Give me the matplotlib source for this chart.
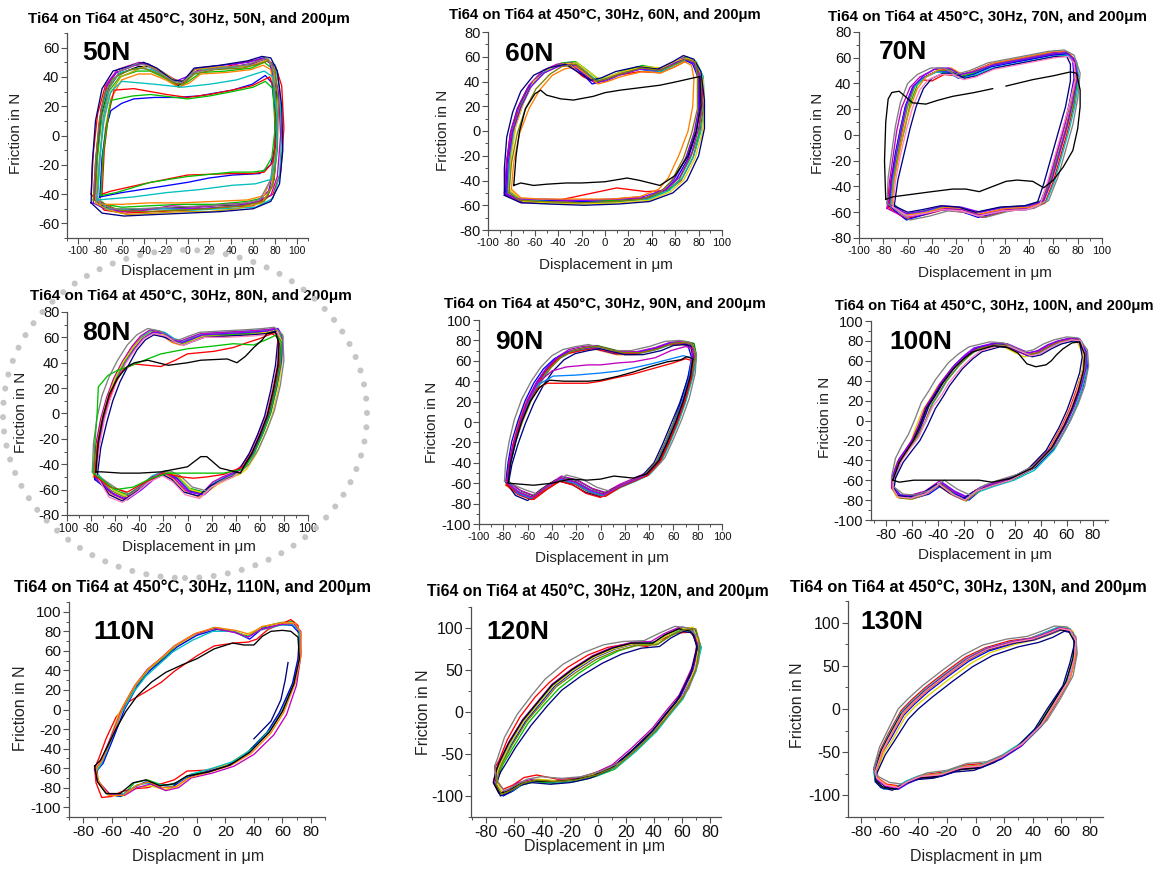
import numpy as np
import matplotlib
matplotlib.use('Agg')
import matplotlib.pyplot as plt
from matplotlib.patches import Ellipse
from matplotlib.ticker import MultipleLocator

plt.rcParams['font.family'] = ['Liberation Sans', 'DejaVu Sans']
plt.rcParams['axes.unicode_minus'] = False

W, H = 1161, 869

loads = ['50N', '60N', '70N', '80N', '90N', '100N', '110N', '120N', '130N']
xlabels = ['Displacement in μm'] * 6 + ['Displacment in μm', 'Displacement in μm', 'Displacment in μm']

# ---- friction loops, one list of (displacement, friction) points per cycle ----
loops_50N = [
    [(-85,-44),(-83,-16),(-79,12),(-73,31),(-63,42),(-45,47),(-35,47),(-20,41),(-9,34),(0,38),(10,45),(35,46),(58,49),(70,53),(77,49),(81,30),(82,0),(79,-30),(72,-43),(55,-47),(25,-48),(-5,-49),(-35,-50),(-60,-51),(-76,-49),(-85,-44)],
    [(-88,-40),(-86,-12),(-82,15),(-75,34),(-65,43),(-48,48),(-38,49),(-24,43),(-10,35),(-2,37),(9,44),(35,47),(58,51),(72,52),(80,48),(86,34),(88,5),(85,-25),(78,-40),(60,-48),(30,-49),(0,-51),(-30,-52),(-58,-53),(-76,-51),(-88,-40)],
    [(-84,-42),(-82,-14),(-78,14),(-72,30),(-62,40),(-46,44),(-34,44),(-20,39),(-8,33),(1,37),(12,43),(35,44),(58,46),(70,50),(77,46),(81,25),(82,-5),(79,-30),(73,-42),(55,-45),(25,-47),(-5,-47),(-35,-48),(-60,-49),(-75,-47),(-84,-42)],
    [(-86,-46),(-84,-18),(-80,10),(-74,33),(-65,43),(-48,48),(-36,49),(-22,43),(-11,37),(-1,40),(8,46),(32,48),(56,50),(68,53),(75,50),(79,36),(81,5),(79,-22),(74,-38),(62,-46),(35,-49),(5,-50),(-25,-50),(-55,-52),(-76,-50),(-86,-46)],
    [(-85,-40),(-83,-10),(-79,16),(-72,34),(-61,43),(-45,46),(-33,45),(-19,40),(-7,36),(2,40),(12,45),(38,46),(60,48),(72,51),(80,48),(84,32),(86,0),(84,-28),(78,-43),(62,-49),(32,-50),(5,-51),(-22,-50),(-50,-51),(-74,-50),(-85,-40)],
    [(-85,-43),(-83,-12),(-79,18),(-73,36),(-64,45),(-44,50),(-32,47),(-18,41),(-6,36),(3,42),(14,46),(40,47),(60,49),(70,52),(78,48),(83,30),(85,0),(82,-28),(76,-41),(60,-46),(35,-47),(10,-49),(-15,-48),(-40,-51),(-64,-52),(-85,-43)],
    [(-84,-46),(-81,-20),(-77,8),(-71,28),(-61,40),(-46,45),(-37,48),(-24,44),(-12,38),(-3,37),(7,45),(30,47),(55,47),(67,50),(74,52),(79,44),(81,18),(80,-12),(77,-35),(68,-46),(45,-50),(20,-52),(-5,-52),(-30,-53),(-55,-54),(-72,-51),(-84,-46)],
    [(-86,-44),(-84,-20),(-81,8),(-76,28),(-68,39),(-52,45),(-40,46),(-26,42),(-12,36),(-4,35),(6,42),(25,45),(50,46),(66,49),(74,51),(80,45),(83,20),(82,-10),(78,-34),(70,-45),(50,-48),(20,-50),(-10,-51),(-40,-52),(-62,-51),(-86,-44)],
    [(-80,-47),(-78,-20),(-75,5),(-70,25),(-60,38),(-45,42),(-33,42),(-20,38),(-8,33),(2,36),(12,42),(35,43),(58,45),(69,48),(76,45),(79,30),(80,0),(77,-28),(70,-41),(55,-44),(25,-45),(-5,-46),(-35,-46),(-60,-47),(-80,-47)],
    [(-88,-46),(-87,-20),(-84,10),(-78,32),(-68,44),(-50,48),(-40,50),(-28,46),(-14,38),(-4,37),(6,46),(30,48),(55,51),(68,54),(76,53),(82,44),(86,20),(87,-10),(84,-33),(76,-45),(60,-50),(30,-52),(0,-53),(-30,-54),(-58,-55),(-78,-53),(-88,-46)],
    [(-83,-45),(-80,-18),(-77,12),(-71,33),(-62,44),(-46,49),(-38,48),(-25,43),(-13,37),(-5,36),(5,43),(28,46),(52,48),(65,51),(73,53),(78,46),(80,25),(80,-5),(76,-30),(66,-44),(45,-47),(15,-48),(-15,-49),(-45,-50),(-70,-50),(-83,-45)],
    [(-80,-42),(-78,-15),(-74,6),(-70,17),(-60,22),(-49,25),(-30,26),(-10,26),(10,27),(41,31),(59,35),(71,41),(77,36),(80,15),(80,-8),(76,-20),(66,-26),(41,-27),(20,-29),(0,-32),(-34,-36),(-60,-39),(-80,-42)],
    [(-78,-40),(-76,-10),(-72,15),(-67,31),(-49,32),(-19,28),(0,26),(20,28),(41,31),(59,34),(75,40),(80,30),(81,0),(78,-18),(70,-25),(59,-26),(41,-26),(0,-27),(-40,-33),(-70,-38),(-78,-40)],
    [(-79,-41),(-77,-12),(-73,10),(-70,24),(-50,27),(-34,28),(0,25),(20,27),(41,30),(60,33),(71,37),(78,32),(80,5),(77,-15),(70,-24),(59,-25),(41,-25),(0,-28),(-34,-32),(-65,-39),(-79,-41)],
    [(-82,-44),(-80,-15),(-76,12),(-70,30),(-60,37),(-30,35),(-5,33),(20,35),(45,38),(70,44),(78,40),(82,10),(81,-15),(76,-30),(62,-33),(41,-34),(10,-37),(-19,-39),(-50,-42),(-82,-44)],
]
colors_50N = ['k', 'r', '#00c000', '#8000ff', 'c', 'm', '#c8a000', '#808000',
              '#ff8000', '#000080', '#808080', 'b', 'r', '#00c000', 'c']

loops_60N = [
    [(-83,-48),(-81,-22),(-77,2),(-70,22),(-62,38),(-50,49),(-38,54),(-27,56),(-16,48),(-8,41),(1,42),(13,47),(30,52),(47,50),(60,56),(68,60),(76,56),(80,45),(81,20),(77,0),(70,-20),(60,-38),(50,-47),(35,-54),(10,-56),(-20,-57),(-50,-56),(-72,-55),(-83,-48)],
    [(-85,-52),(-84,-28),(-80,-3),(-74,18),(-66,34),(-54,46),(-42,52),(-30,53),(-19,44),(-10,40),(-1,42),(10,45),(30,48),(47,47),(60,52),(70,57),(78,54),(83,40),(84,18),(81,-2),(75,-22),(65,-40),(54,-48),(35,-49),(10,-46),(-20,-52),(-50,-58),(-72,-57),(-85,-52)],
    [(-84,-49),(-82,-22),(-78,3),(-71,23),(-62,39),(-49,50),(-37,55),(-25,56),(-15,49),(-6,42),(2,43),(14,48),(32,53),(48,50),(62,56),(70,60),(78,55),(82,42),(83,18),(80,-3),(73,-22),(63,-40),(52,-49),(35,-55),(10,-56),(-20,-57),(-50,-58),(-72,-56),(-84,-49)],
    [(-85,-51),(-84,-26),(-81,-2),(-75,18),(-66,35),(-53,47),(-42,52),(-29,54),(-19,46),(-11,38),(-3,40),(10,45),(28,50),(46,48),(59,54),(67,58),(75,54),(80,42),(81,18),(78,-2),(71,-22),(61,-39),(51,-48),(35,-54),(10,-57),(-20,-57),(-50,-56),(-72,-57),(-85,-51)],
    [(-83,-50),(-82,-24),(-78,1),(-71,21),(-63,37),(-51,48),(-39,53),(-26,54),(-16,47),(-7,41),(1,43),(12,47),(31,50),(48,48),(61,54),(70,58),(78,56),(84,44),(85,20),(82,0),(76,-20),(66,-38),(55,-48),(38,-55),(12,-57),(-18,-58),(-48,-57),(-70,-56),(-83,-50)],
    [(-86,-50),(-84,-23),(-80,2),(-73,22),(-65,37),(-53,49),(-41,54),(-28,55),(-18,47),(-9,39),(-1,41),(11,46),(29,50),(46,50),(59,55),(67,59),(75,57),(81,45),(83,22),(80,2),(74,-18),(64,-37),(53,-47),(36,-54),(11,-55),(-19,-56),(-49,-57),(-71,-58),(-86,-50)],
    [(-82,-47),(-80,-20),(-76,5),(-69,25),(-61,40),(-48,50),(-36,54),(-24,55),(-14,48),(-5,42),(3,44),(15,48),(33,52),(49,51),(62,57),(71,59),(79,54),(84,41),(85,18),(83,-2),(77,-22),(67,-40),(56,-49),(38,-56),(12,-58),(-18,-59),(-48,-58),(-70,-57),(-82,-47)],
    [(-84,-51),(-83,-27),(-79,-1),(-72,19),(-64,35),(-52,47),(-40,52),(-28,54),(-18,46),(-9,40),(0,40),(12,45),(30,50),(47,49),(60,55),(68,58),(76,55),(80,43),(80,18),(76,-2),(69,-22),(59,-39),(49,-48),(33,-53),(8,-55),(-22,-56),(-52,-55),(-73,-55),(-84,-51)],
    [(-80,-47),(-78,-25),(-73,-2),(-65,18),(-56,33),(-45,45),(-35,50),(-25,52),(-15,45),(-6,38),(2,40),(14,44),(32,48),(48,47),(60,52),(68,56),(74,53),(76,42),(75,20),(71,0),(63,-20),(54,-38),(46,-47),(30,-53),(5,-55),(-25,-55),(-55,-55),(-72,-54),(-80,-47)],
    [(-86,-52),(-86,-30),(-84,-5),(-79,15),(-72,32),(-61,45),(-48,51),(-34,54),(-22,47),(-12,41),(-3,43),(9,48),(28,52),(45,50),(58,56),(67,61),(76,58),(82,48),(85,25),(85,2),(80,-20),(70,-40),(58,-50),(38,-57),(12,-59),(-18,-60),(-48,-59),(-72,-58),(-86,-52)],
    [(-82,-50),(-80,-26),(-75,-2),(-68,18),(-59,34),(-47,46),(-37,52),(-25,54),(-15,46),(-7,40),(1,42),(13,46),(31,51),(47,49),(60,54),(69,58),(77,56),(79,44),(79,18),(74,-2),(67,-22),(57,-40),(48,-49),(32,-55),(8,-57),(-22,-58),(-52,-57),(-73,-56),(-82,-50)],
    [(-78,-44),(-76,-20),(-73,0),(-68,18),(-60,30),(-55,33),(-50,29),(-38,26),(-27,25),(-10,28),(0,31),(13,33),(30,35),(47,37),(62,40),(76,43),(81,44),(82,20),(78,0),(71,-20),(60,-36),(47,-44),(30,-40),(19,-38),(0,-41),(-20,-42),(-33,-42),(-50,-43),(-61,-44),(-72,-42),(-78,-44)],
]
colors_60N = ['#808080', 'r', '#00c000', 'b', 'c', 'm', '#e0d000', '#8000ff',
              '#ff8000', '#000080', '#808000', 'k']

loops_70N = [
    [(-74,-54),(-72,-35),(-68,-15),(-64,5),(-60,22),(-54,38),(-46,45),(-35,50),(-25,50),(-16,45),(-5,48),(10,54),(38,59),(60,63),(72,64),(78,58),(79,45),(75,25),(70,5),(64,-15),(58,-35),(51,-52),(40,-56),(20,-57),(0,-62),(-15,-58),(-30,-57),(-45,-60),(-60,-63),(-74,-54)],
    [(-76,-56),(-74,-36),(-70,-15),(-66,5),(-61,24),(-55,38),(-49,43),(-40,42),(-30,47),(-20,46),(-8,49),(8,55),(36,58),(58,62),(71,63),(77,57),(80,44),(77,24),(72,4),(66,-16),(60,-36),(53,-53),(42,-57),(22,-59),(2,-64),(-14,-60),(-30,-58),(-46,-62),(-62,-65),(-76,-56)],
    [(-73,-52),(-71,-33),(-67,-13),(-62,6),(-58,24),(-52,39),(-44,46),(-33,51),(-24,51),(-14,46),(-3,49),(12,55),(40,60),(62,64),(73,63),(79,57),(80,42),(76,22),(70,2),(63,-18),(57,-37),(50,-51),(38,-55),(18,-56),(-2,-60),(-16,-57),(-32,-56),(-47,-59),(-62,-62),(-73,-52)],
    [(-75,-55),(-73,-34),(-70,-14),(-66,4),(-62,22),(-56,37),(-48,44),(-37,49),(-27,49),(-18,44),(-6,47),(9,53),(37,58),(59,62),(71,63),(76,57),(77,44),(73,24),(68,4),(62,-16),(56,-36),(49,-53),(38,-58),(18,-59),(-2,-64),(-17,-59),(-32,-58),(-47,-62),(-61,-66),(-75,-55)],
    [(-74,-53),(-72,-33),(-69,-13),(-65,6),(-61,23),(-55,37),(-47,44),(-36,49),(-26,48),(-17,44),(-6,46),(10,52),(38,57),(60,61),(72,62),(79,57),(81,44),(78,24),(73,4),(67,-16),(61,-36),(54,-52),(42,-56),(22,-58),(2,-61),(-13,-58),(-28,-56),(-44,-59),(-60,-62),(-74,-53)],
    [(-77,-57),(-75,-37),(-72,-17),(-69,3),(-65,21),(-58,37),(-50,45),(-38,51),(-28,51),(-19,46),(-7,49),(8,55),(36,60),(58,64),(70,65),(76,60),(78,46),(74,26),(69,6),(63,-14),(57,-34),(50,-52),(39,-57),(19,-58),(-1,-62),(-15,-58),(-31,-57),(-46,-61),(-62,-64),(-77,-57)],
    [(-73,-55),(-71,-35),(-67,-15),(-63,4),(-58,21),(-52,36),(-45,45),(-34,51),(-24,52),(-15,47),(-4,50),(11,56),(39,61),(61,65),(73,64),(78,58),(79,45),(76,25),(71,5),(65,-15),(59,-35),(52,-52),(41,-56),(21,-57),(1,-61),(-14,-57),(-29,-56),(-44,-60),(-59,-62),(-73,-55)],
    [(-75,-54),(-73,-34),(-69,-14),(-65,5),(-61,23),(-55,38),(-47,46),(-36,52),(-26,52),(-17,47),(-6,49),(9,54),(37,59),(59,63),(71,64),(77,59),(80,46),(76,26),(71,6),(65,-14),(59,-34),(52,-51),(40,-55),(20,-56),(0,-60),(-16,-56),(-31,-55),(-46,-59),(-61,-61),(-75,-54)],
    [(-71,-55),(-68,-35),(-63,-15),(-58,5),(-53,22),(-47,36),(-40,44),(-31,48),(-21,48),(-13,44),(-3,46),(12,52),(40,57),(62,61),(71,61),(74,55),(74,42),(70,22),(64,2),(58,-18),(52,-38),(47,-52),(36,-55),(16,-56),(-4,-60),(-18,-56),(-33,-55),(-48,-58),(-60,-60),(-71,-55)],
    [(-77,-53),(-76,-33),(-73,-13),(-70,7),(-66,25),(-60,40),(-52,47),(-41,52),(-30,52),(-21,47),(-9,50),(6,56),(34,61),(56,65),(69,66),(77,62),(82,48),(80,28),(76,8),(70,-12),(64,-32),(56,-51),(44,-57),(24,-59),(4,-64),(-12,-60),(-27,-59),(-42,-63),(-58,-66),(-77,-53)],
    [(-72,-56),(-70,-36),(-66,-16),(-61,4),(-56,21),(-50,35),(-43,43),(-33,47),(-23,47),(-14,43),(-4,45),(11,51),(39,56),(61,60),(72,61),(77,56),(78,43),(73,23),(67,3),(61,-17),(55,-37),(49,-54),(38,-58),(18,-59),(-2,-63),(-16,-59),(-31,-58),(-46,-61),(-60,-63),(-72,-56)],
    [(-78,-50),(-79,-20),(-78,10),(-76,28),(-73,33),(-67,34),(-62,30),(-56,25),(-45,24),(-35,27),(-23,30),(-5,33),(10,36)],
    [(21,38),(43,43),(60,46),(74,49),(79,48),(82,35),(82,22),(80,5),(76,-12),(68,-25),(60,-35),(52,-41),(43,-36),(30,-35),(21,-36),(10,-40),(-1,-44),(-12,-42),(-23,-42),(-40,-44),(-56,-46),(-72,-48),(-78,-50)],
]
colors_70N = ['#808000', 'r', '#00c000', 'b', 'c', 'm', '#ff8000', '#8000ff',
              '#000080', '#808080', '#ff80c0', 'k', 'k']

loops_80N = [
    [(-77,-48),(-75,-25),(-71,-5),(-66,12),(-60,27),(-53,40),(-45,52),(-38,60),(-30,65),(-20,63),(-12,58),(-5,56),(3,59),(12,62),(30,63),(50,64),(65,65),(74,67),(77,60),(76,40),(72,20),(67,0),(61,-15),(54,-30),(46,-42),(40,-47),(30,-51),(22,-55),(12,-63),(0,-60),(-10,-50),(-19,-46),(-30,-50),(-40,-58),(-52,-66),(-63,-61),(-77,-48)],
    [(-78,-50),(-76,-27),(-72,-6),(-67,11),(-62,26),(-55,39),(-47,51),(-40,59),(-32,64),(-22,62),(-13,56),(-6,54),(2,57),(11,60),(29,61),(49,62),(64,63),(73,65),(76,58),(75,38),(71,18),(66,-2),(60,-17),(53,-32),(45,-43),(38,-48),(28,-53),(20,-58),(10,-66),(-1,-62),(-11,-52),(-20,-47),(-31,-52),(-41,-60),(-53,-68),(-64,-63),(-78,-50)],
    [(-76,-46),(-74,-23),(-70,-3),(-65,14),(-59,29),(-52,42),(-44,53),(-37,61),(-29,66),(-19,64),(-11,59),(-4,57),(4,60),(13,63),(31,64),(51,65),(66,66),(75,67),(78,61),(77,41),(73,21),(68,1),(62,-14),(55,-29),(47,-41),(41,-46),(31,-50),(23,-54),(13,-62),(1,-59),(-9,-49),(-18,-45),(-29,-49),(-39,-57),(-51,-65),(-62,-60),(-76,-46)],
    [(-77,-52),(-75,-29),(-72,-8),(-67,9),(-61,25),(-54,38),(-46,50),(-39,58),(-31,63),(-21,61),(-12,57),(-5,55),(3,58),(12,61),(30,62),(50,63),(65,64),(74,66),(78,59),(77,39),(73,19),(68,-1),(62,-16),(55,-31),(47,-43),(41,-48),(31,-52),(23,-56),(13,-64),(1,-61),(-9,-51),(-18,-47),(-29,-51),(-39,-59),(-51,-68),(-62,-63),(-77,-52)],
    [(-76,-49),(-74,-26),(-70,-5),(-65,13),(-59,28),(-52,41),(-44,52),(-37,60),(-29,64),(-19,62),(-11,57),(-4,55),(4,58),(13,61),(31,62),(51,63),(66,64),(75,66),(79,60),(78,40),(74,20),(69,0),(63,-15),(56,-30),(48,-42),(42,-47),(32,-51),(24,-55),(14,-62),(2,-59),(-8,-50),(-17,-46),(-28,-50),(-38,-57),(-50,-64),(-61,-60),(-76,-49)],
    [(-78,-47),(-76,-24),(-72,-4),(-67,13),(-61,28),(-54,41),(-46,53),(-39,61),(-31,66),(-21,64),(-13,58),(-6,57),(2,60),(11,63),(29,64),(49,65),(64,66),(73,67),(76,61),(75,41),(71,21),(66,1),(60,-14),(53,-29),(45,-41),(39,-46),(29,-50),(21,-54),(11,-64),(-1,-61),(-11,-51),(-20,-46),(-31,-51),(-41,-59),(-53,-67),(-64,-62),(-78,-47)],
    [(-77,-48),(-75,-25),(-71,-4),(-66,13),(-60,28),(-53,41),(-45,52),(-38,59),(-30,64),(-20,62),(-12,57),(-5,54),(3,57),(12,61),(30,61),(50,62),(65,64),(74,66),(78,58),(78,38),(75,18),(70,-2),(64,-17),(57,-32),(49,-44),(43,-48),(33,-52),(25,-56),(15,-63),(3,-60),(-7,-50),(-16,-46),(-27,-50),(-37,-58),(-49,-66),(-60,-61),(-77,-48)],
    [(-76,-51),(-74,-28),(-70,-7),(-65,10),(-59,26),(-52,39),(-44,51),(-37,59),(-29,64),(-19,63),(-11,58),(-4,56),(4,59),(13,62),(31,63),(51,64),(66,65),(75,67),(79,61),(78,41),(74,21),(69,1),(63,-14),(56,-29),(48,-41),(42,-46),(32,-50),(24,-55),(14,-64),(2,-62),(-8,-52),(-17,-47),(-28,-52),(-38,-60),(-50,-68),(-61,-64),(-76,-51)],
    [(-75,-50),(-72,-27),(-67,-7),(-62,10),(-56,25),(-49,38),(-42,50),(-35,58),(-28,62),(-18,60),(-10,56),(-3,54),(5,57),(14,60),(32,61),(52,62),(66,63),(73,65),(75,58),(73,38),(69,18),(64,-2),(58,-17),(51,-32),(43,-44),(37,-49),(27,-53),(19,-57),(9,-65),(-3,-62),(-13,-52),(-21,-48),(-32,-53),(-42,-61),(-54,-69),(-65,-64),(-75,-50)],
    [(-79,-46),(-78,-23),(-75,-3),(-71,14),(-65,29),(-58,42),(-50,54),(-42,62),(-33,67),(-23,65),(-14,59),(-7,58),(1,61),(10,64),(28,65),(48,66),(63,67),(72,68),(79,62),(80,42),(77,22),(72,2),(66,-13),(59,-28),(51,-40),(44,-46),(34,-50),(26,-54),(16,-61),(4,-58),(-6,-49),(-15,-45),(-26,-49),(-36,-56),(-48,-64),(-59,-59),(-79,-46)],
    [(-76,-48),(-73,-25),(-69,-5),(-64,12),(-58,27),(-51,40),(-43,51),(-36,59),(-28,63),(-18,61),(-10,56),(-3,54),(5,57),(14,60),(32,60),(52,61),(67,62),(75,64),(77,57),(74,37),(70,17),(65,-3),(59,-18),(52,-33),(44,-45),(38,-50),(28,-54),(20,-58),(10,-67),(-2,-64),(-12,-54),(-21,-49),(-32,-54),(-42,-62),(-54,-70),(-65,-66),(-76,-48)],
    [(-77,-49),(-75,-26),(-71,-6),(-66,10),(-60,24),(-53,35),(-44,39),(-33,38),(-22,37),(-10,42),(0,47),(22,49),(38,52),(50,56),(60,59),(70,63),(75,60),(76,40),(72,20),(67,0),(61,-15),(54,-30),(46,-42),(30,-48),(16,-50),(5,-51),(-5,-50),(-20,-47),(-35,-54),(-50,-62),(-64,-58),(-77,-49)],
    [(-78,-47),(-77,-25),(-75,0),(-74,21),(-66,30),(-58,34),(-49,37),(-33,43),(-22,47),(0,51),(20,53),(38,55),(55,54),(65,58),(74,62),(78,56),(77,38),(73,18),(68,-2),(62,-17),(55,-32),(46,-44),(30,-47),(16,-47),(0,-47),(-16,-47),(-30,-51),(-45,-58),(-60,-60),(-78,-47)],
    [(-76,-46),(-74,-22),(-70,-2),(-65,15),(-58,28),(-50,37),(-44,40),(-33,42),(-16,38),(0,40),(11,42),(33,43),(41,40),(48,45),(55,52),(62,58),(66,63),(73,64),(76,55),(75,38),(71,18),(66,-2),(60,-17),(53,-32),(46,-43),(44,-47),(27,-43),(16,-34),(11,-34),(0,-42),(-22,-46),(-40,-47),(-55,-47),(-71,-46),(-76,-46)],
]
colors_80N = ['#808000', '#ff8000', 'c', 'b', '#00c000', 'm', '#e0d000', '#8000ff',
              '#000080', '#808080', '#ff80c0', 'r', '#00c000', 'k']

loops_90N = [
    [(-77,-60),(-75,-40),(-71,-20),(-66,0),(-60,20),(-52,38),(-44,52),(-35,63),(-26,69),(-15,72),(-5,74),(5,71),(15,68),(30,68),(45,72),(57,77),(68,78),(75,76),(77,64),(74,45),(68,20),(62,0),(55,-20),(48,-38),(38,-51),(27,-57),(15,-63),(3,-71),(-8,-67),(-20,-59),(-33,-55),(-45,-64),(-56,-74),(-67,-69),(-77,-60)],
    [(-78,-62),(-76,-42),(-72,-22),(-68,-2),(-62,18),(-54,36),(-46,50),(-37,61),(-28,67),(-17,70),(-7,72),(3,69),(13,66),(28,66),(43,70),(55,75),(66,76),(74,74),(76,62),(73,43),(67,18),(61,-2),(54,-22),(47,-40),(37,-53),(26,-59),(14,-65),(2,-73),(-9,-69),(-21,-61),(-34,-57),(-46,-66),(-57,-76),(-68,-71),(-78,-62)],
    [(-76,-58),(-74,-38),(-70,-18),(-65,2),(-58,22),(-50,40),(-42,54),(-33,64),(-24,70),(-13,73),(-3,75),(7,72),(17,69),(32,69),(47,73),(59,78),(70,79),(77,77),(79,65),(76,46),(70,21),(64,1),(57,-19),(50,-37),(40,-50),(29,-56),(17,-62),(5,-70),(-6,-66),(-18,-58),(-31,-54),(-43,-63),(-54,-73),(-65,-68),(-76,-58)],
    [(-78,-59),(-76,-39),(-73,-19),(-68,1),(-62,21),(-55,38),(-47,52),(-38,62),(-29,68),(-18,71),(-8,73),(2,70),(12,67),(27,67),(42,71),(54,76),(65,77),(72,75),(75,63),(72,44),(66,19),(60,-1),(53,-21),(46,-39),(36,-52),(25,-58),(13,-64),(1,-72),(-10,-68),(-22,-60),(-35,-56),(-47,-65),(-58,-75),(-69,-70),(-78,-59)],
    [(-76,-61),(-74,-41),(-70,-21),(-65,-1),(-59,19),(-51,37),(-43,51),(-34,62),(-25,68),(-14,71),(-4,73),(6,70),(16,67),(31,67),(46,71),(58,76),(69,77),(76,75),(79,63),(76,44),(70,19),(64,-1),(57,-21),(50,-39),(40,-52),(29,-58),(17,-64),(5,-72),(-6,-68),(-18,-60),(-31,-56),(-43,-65),(-54,-75),(-65,-70),(-76,-61)],
    [(-77,-58),(-75,-38),(-71,-18),(-66,2),(-60,22),(-52,40),(-44,53),(-35,64),(-26,71),(-15,74),(-5,75),(5,72),(15,69),(30,69),(45,73),(57,78),(68,79),(75,77),(78,66),(75,47),(69,22),(63,2),(56,-18),(49,-36),(39,-49),(28,-55),(16,-61),(4,-69),(-7,-65),(-19,-57),(-32,-53),(-44,-62),(-55,-72),(-66,-67),(-77,-58)],
    [(-77,-62),(-75,-42),(-72,-22),(-67,-2),(-61,18),(-53,36),(-45,50),(-36,61),(-27,67),(-16,70),(-6,72),(4,70),(14,67),(29,67),(44,71),(56,76),(67,77),(74,75),(77,63),(75,44),(69,19),(63,-1),(56,-21),(49,-39),(39,-52),(28,-58),(16,-64),(4,-73),(-7,-69),(-19,-61),(-32,-57),(-44,-66),(-55,-76),(-66,-71),(-77,-62)],
    [(-76,-60),(-74,-40),(-70,-20),(-66,0),(-60,20),(-53,38),(-45,52),(-36,63),(-27,69),(-16,72),(-6,73),(4,71),(14,68),(29,68),(44,72),(56,77),(67,78),(74,76),(77,64),(74,45),(68,20),(62,0),(55,-20),(48,-38),(38,-51),(27,-57),(15,-63),(3,-71),(-8,-67),(-20,-59),(-33,-55),(-45,-64),(-56,-74),(-67,-69),(-76,-60)],
    [(-76,-62),(-73,-42),(-68,-22),(-62,-2),(-55,18),(-47,36),(-39,50),(-30,61),(-21,67),(-10,70),(0,72),(10,69),(20,66),(35,66),(50,70),(60,75),(70,76),(75,74),(76,62),(72,43),(65,18),(58,-2),(51,-22),(44,-40),(34,-53),(23,-59),(11,-65),(-1,-73),(-12,-69),(-24,-61),(-37,-57),(-49,-66),(-60,-77),(-70,-72),(-76,-62)],
    [(-79,-58),(-78,-38),(-75,-18),(-71,2),(-65,22),(-57,40),(-49,54),(-40,65),(-31,71),(-20,74),(-10,76),(0,73),(10,70),(25,70),(40,74),(53,79),(65,80),(74,78),(79,67),(78,48),(73,23),(67,3),(60,-17),(53,-35),(43,-48),(32,-54),(20,-60),(8,-68),(-3,-64),(-15,-56),(-28,-52),(-40,-61),(-51,-71),(-63,-66),(-79,-58)],
    [(-77,-59),(-74,-39),(-70,-19),(-64,1),(-57,21),(-49,39),(-41,53),(-32,64),(-23,70),(-12,73),(-2,74),(8,71),(18,68),(33,68),(48,72),(59,77),(69,78),(76,76),(78,64),(74,44),(67,19),(60,-1),(53,-21),(46,-39),(36,-52),(25,-58),(13,-64),(1,-72),(-10,-68),(-22,-60),(-35,-56),(-47,-65),(-58,-75),(-69,-70),(-77,-59)],
    [(-77,-61),(-75,-41),(-71,-21),(-66,-1),(-60,18),(-53,32),(-44,38),(-30,38),(-11,38),(0,40),(11,43),(27,47),(45,53),(60,58),(70,62),(76,60),(74,43),(68,18),(62,-2),(55,-22),(48,-40),(38,-53),(25,-58),(12,-66),(0,-74),(-12,-70),(-22,-62),(-34,-58),(-46,-67),(-57,-76),(-68,-71),(-77,-61)],
    [(-76,-59),(-74,-39),(-70,-19),(-65,1),(-59,21),(-52,36),(-39,45),(-20,46),(0,48),(15,50),(27,53),(42,57),(55,61),(68,65),(75,63),(73,44),(67,19),(61,-1),(54,-21),(47,-39),(37,-52),(26,-58),(14,-64),(2,-72),(-9,-68),(-21,-60),(-34,-56),(-46,-65),(-57,-75),(-68,-70),(-76,-59)],
    [(-77,-60),(-75,-40),(-71,-20),(-66,0),(-60,20),(-52,38),(-40,50),(-28,54),(-10,56),(0,56),(15,58),(27,59),(45,63),(58,70),(70,74),(76,72),(74,45),(68,20),(62,0),(55,-20),(48,-38),(38,-51),(27,-57),(15,-63),(3,-71),(-8,-67),(-20,-59),(-33,-55),(-45,-64),(-56,-74),(-67,-69),(-77,-60)],
    [(-76,-60),(-74,-40),(-70,-20),(-65,0),(-58,20),(-50,34),(-42,41),(-30,40),(-22,40),(-10,40),(0,41),(15,45),(27,49),(40,54),(55,59),(66,61),(71,64),(76,62),(74,45),(68,20),(62,0),(55,-20),(48,-38),(38,-51),(27,-55),(11,-53),(0,-56),(-11,-57),(-25,-56),(-40,-60),(-55,-62),(-76,-60)],
]
colors_90N = ['#00c000', '#ff8000', '#008000', 'b', 'c', 'm', 'r', '#8000ff',
              '#000080', '#808080', '#808000', 'r', '#0080ff', 'm', 'k']

loops_100N = [
    [(-75,-57),(-70,-40),(-64,-28),(-59,-18),(-54,-3),(-49,14),(-43,26),(-38,37),(-28,54),(-20,64),(-13,71),(3,77),(13,76),(22,70),(29,66),(36,68),(44,74),(52,79),(62,82),(70,81),(75,68),(74,52),(70,32),(65,14),(59,-3),(49,-26),(40,-38),(34,-46),(18,-57),(3,-63),(-8,-68),(-18,-79),(-28,-73),(-38,-63),(-49,-73),(-60,-77),(-70,-76),(-75,-68),(-75,-57)],
    [(-74,-55),(-69,-38),(-62,-25),(-56,-14),(-51,1),(-46,18),(-40,30),(-35,41),(-25,57),(-17,67),(-10,73),(5,78),(15,76),(24,71),(31,68),(38,70),(46,76),(54,80),(64,83),(71,80),(74,66),(72,49),(67,29),(62,11),(56,-6),(46,-29),(37,-41),(31,-49),(15,-59),(0,-65),(-11,-70),(-20,-80),(-30,-74),(-40,-65),(-51,-75),(-62,-78),(-71,-77),(-75,-68),(-74,-55)],
    [(-76,-59),(-72,-42),(-66,-31),(-61,-21),(-57,-6),(-52,10),(-46,22),(-41,33),(-31,50),(-23,60),(-16,68),(0,75),(11,74),(20,68),(27,64),(34,66),(42,72),(50,77),(60,80),(68,79),(73,66),(72,50),(68,30),(63,12),(57,-5),(47,-28),(38,-40),(32,-48),(16,-59),(1,-65),(-10,-70),(-20,-80),(-30,-74),(-40,-65),(-51,-74),(-62,-79),(-72,-77),(-76,-68),(-76,-59)],
    [(-74,-58),(-69,-41),(-63,-29),(-57,-18),(-52,-2),(-47,15),(-41,27),(-36,38),(-26,55),(-18,65),(-11,72),(4,77),(14,75),(23,69),(30,65),(37,67),(45,73),(53,78),(63,81),(71,80),(76,67),(76,51),(72,31),(67,13),(61,-4),(51,-27),(42,-39),(36,-47),(20,-58),(5,-64),(-6,-69),(-16,-80),(-26,-74),(-36,-64),(-47,-74),(-58,-78),(-68,-77),(-74,-69),(-74,-58)],
    [(-73,-56),(-68,-39),(-61,-26),(-55,-15),(-49,0),(-44,17),(-38,29),(-33,40),(-23,56),(-15,66),(-8,72),(6,76),(16,74),(25,69),(32,65),(39,67),(47,73),(55,77),(65,80),(72,79),(76,65),(75,48),(71,28),(66,10),(60,-7),(50,-30),(41,-42),(35,-50),(19,-60),(4,-66),(-7,-71),(-17,-78),(-27,-72),(-37,-62),(-48,-71),(-59,-76),(-69,-75),(-74,-67),(-73,-56)],
    [(-76,-58),(-71,-41),(-65,-29),(-60,-19),(-55,-4),(-50,13),(-44,25),(-39,36),(-29,53),(-21,63),(-14,70),(2,76),(12,75),(21,70),(28,66),(35,67),(43,73),(51,78),(61,81),(69,80),(74,67),(73,51),(69,31),(64,13),(58,-4),(48,-27),(39,-39),(33,-47),(17,-58),(2,-64),(-9,-69),(-19,-77),(-29,-71),(-39,-61),(-50,-71),(-61,-75),(-71,-75),(-76,-68),(-76,-58)],
    [(-74,-57),(-69,-40),(-62,-27),(-56,-16),(-50,-1),(-45,16),(-39,28),(-34,39),(-24,55),(-16,65),(-9,72),(5,76),(15,75),(24,70),(31,66),(38,68),(46,74),(54,79),(64,81),(71,79),(75,66),(74,50),(70,30),(65,12),(59,-5),(49,-28),(40,-40),(34,-48),(18,-59),(3,-65),(-8,-70),(-18,-81),(-28,-75),(-38,-64),(-49,-74),(-60,-79),(-70,-78),(-75,-69),(-74,-57)],
    [(-75,-55),(-70,-38),(-63,-26),(-58,-16),(-53,-1),(-48,16),(-42,28),(-37,39),(-27,56),(-19,66),(-12,73),(4,78),(14,77),(23,72),(30,68),(37,70),(45,76),(53,80),(63,83),(70,82),(75,69),(75,53),(71,33),(66,15),(60,-2),(50,-25),(41,-37),(35,-45),(19,-56),(4,-62),(-7,-67),(-17,-77),(-27,-71),(-37,-62),(-48,-72),(-59,-76),(-69,-75),(-75,-67),(-75,-55)],
    [(-73,-58),(-67,-42),(-60,-30),(-54,-20),(-48,-5),(-42,12),(-36,24),(-31,35),(-21,52),(-13,62),(-6,69),(8,74),(17,73),(26,68),(33,64),(40,66),(48,72),(56,77),(65,80),(70,79),(72,64),(70,48),(65,28),(60,10),(54,-7),(44,-30),(35,-42),(29,-50),(13,-61),(-2,-67),(-13,-72),(-21,-79),(-31,-73),(-41,-64),(-52,-73),(-63,-77),(-72,-75),(-74,-67),(-73,-58)],
    [(-76,-56),(-73,-38),(-68,-25),(-63,-14),(-58,1),(-53,18),(-47,30),(-42,41),(-32,58),(-24,67),(-16,74),(0,79),(11,78),(20,73),(27,69),(34,71),(42,77),(50,81),(60,84),(69,83),(76,71),(77,55),(74,35),(69,17),(63,0),(53,-23),(44,-35),(38,-43),(22,-54),(7,-60),(-4,-65),(-15,-75),(-25,-69),(-35,-60),(-46,-70),(-57,-75),(-67,-74),(-75,-66),(-76,-56)],
    [(-74,-57),(-68,-40),(-61,-27),(-55,-17),(-50,-2),(-44,14),(-37,26),(-32,37),(-22,53),(-14,63),(-7,70),(7,75),(16,74),(25,69),(32,65),(39,67),(47,73),(55,78),(64,81),(71,80),(74,66),(73,49),(68,29),(63,11),(57,-6),(47,-29),(38,-41),(32,-49),(16,-60),(1,-66),(-10,-71),(-19,-80),(-29,-74),(-39,-64),(-50,-74),(-61,-78),(-71,-77),(-75,-68),(-74,-57)],
    [(-75,-60),(-70,-42),(-64,-30),(-59,-20),(-54,-5),(-49,12),(-43,24),(-38,35),(-28,52),(-20,62),(-13,69),(3,75),(13,74),(22,68),(29,57),(36,54),(44,56),(48,60),(52,66),(57,72),(64,78),(70,79),(74,66),(73,50),(69,30),(64,12),(58,-5),(48,-28),(39,-40),(33,-48),(17,-58),(2,-62),(-8,-60),(-18,-60),(-30,-60),(-45,-60),(-59,-60),(-70,-62),(-75,-60)],
]
colors_100N = ['#00c000', 'r', '#e0d000', 'b', 'c', 'm', '#808000', '#8000ff',
               '#000080', '#808080', '#ff80c0', 'k']

loops_110N = [
    [(-71,-63),(-67,-56),(-60,-32),(-53,-1),(-44,22),(-35,39),(-25,51),(-16,63),(-2,75),(12,84),(26,80),(36,75),(45,84),(59,89),(68,90),(72,80),(72,56),(68,29),(59,-1),(50,-22),(36,-43),(22,-56),(7,-63),(-7,-68),(-16,-77),(-25,-77),(-35,-72),(-44,-75),(-53,-89),(-63,-87),(-70,-73),(-71,-63)],
    [(-72,-60),(-69,-50),(-64,-30),(-57,-8),(-48,8),(-35,19),(-25,28),(-16,39),(0,55),(12,65),(26,68),(36,69),(42,72),(50,82),(60,88),(66,92),(71,86),(72,60),(69,30),(61,0),(52,-20),(38,-42),(24,-55),(8,-62),(-7,-63),(-16,-72),(-25,-76),(-35,-80),(-44,-81),(-53,-84),(-60,-89),(-67,-90),(-71,-75),(-72,-60)],
    [(-72,-64),(-68,-55),(-62,-33),(-55,-4),(-46,19),(-37,37),(-27,50),(-18,62),(-4,74),(10,82),(24,81),(33,76),(43,82),(57,87),(66,88),(71,82),(72,58),(69,31),(61,2),(52,-19),(39,-40),(25,-54),(10,-62),(-5,-69),(-14,-79),(-23,-82),(-33,-78),(-43,-80),(-52,-87),(-62,-86),(-69,-74),(-72,-64)],
    [(-70,-62),(-66,-55),(-59,-30),(-51,0),(-42,24),(-33,40),(-23,52),(-14,64),(0,76),(14,82),(27,79),(37,72),(46,83),(60,87),(67,86),(72,78),(71,52),(67,26),(58,-3),(49,-24),(35,-45),(21,-58),(6,-64),(-8,-70),(-17,-79),(-26,-80),(-36,-74),(-45,-80),(-54,-89),(-63,-86),(-70,-72),(-70,-62)],
    [(-71,-64),(-67,-55),(-61,-34),(-54,-6),(-45,17),(-36,34),(-26,47),(-17,59),(-3,71),(11,80),(25,80),(35,74),(44,81),(58,86),(67,87),(72,81),(73,58),(70,31),(62,3),(53,-18),(40,-39),(26,-53),(11,-60),(-4,-66),(-13,-74),(-22,-78),(-32,-75),(-42,-77),(-51,-86),(-61,-88),(-69,-76),(-71,-64)],
    [(-72,-62),(-68,-54),(-61,-30),(-53,0),(-44,24),(-35,41),(-25,53),(-16,65),(-2,77),(12,83),(26,79),(36,74),(45,82),(59,87),(68,88),(73,80),(73,55),(70,25),(63,-5),(54,-26),(40,-46),(26,-58),(11,-65),(-4,-70),(-13,-80),(-22,-83),(-32,-76),(-42,-80),(-51,-88),(-61,-87),(-70,-73),(-72,-62)],
    [(-71,-60),(-67,-53),(-60,-29),(-52,3),(-43,26),(-34,42),(-24,54),(-15,66),(-1,78),(13,84),(27,81),(37,77),(46,85),(60,89),(69,88),(73,79),(73,54),(69,27),(61,-3),(52,-24),(38,-45),(24,-57),(9,-64),(-6,-70),(-15,-79),(-24,-80),(-34,-74),(-43,-78),(-52,-88),(-62,-88),(-69,-74),(-71,-60)],
    [(-72,-58),(-68,-52),(-63,-38),(-57,-20),(-50,-2),(-42,14),(-32,28),(-22,38),(-10,46),(0,52),(12,62),(25,68),(33,66),(40,66),(46,75),(52,80),(60,81),(66,80),(71,74),(72,52),(68,26),(60,-2),(51,-23),(37,-44),(23,-57),(8,-64),(-7,-68),(-16,-76),(-26,-78),(-36,-72),(-45,-75),(-54,-86),(-64,-86),(-70,-74),(-72,-58)],
    [(40,-30),(52,-12),(59,10),(62,30),(64,48)],
]
colors_110N = ['#00c000', 'r', '#e0d000', 'b', 'c', 'm', '#ff8000', 'k', '#000080']

loops_120N = [
    [(-72,-69),(-70,-61),(-63,-37),(-53,-10),(-41,14),(-32,32),(-18,50),(-3,66),(11,76),(25,82),(40,82),(49,92),(59,100),(68,98),(72,78),(68,50),(59,18),(49,-2),(40,-21),(25,-45),(11,-65),(-3,-75),(-18,-81),(-32,-83),(-46,-81),(-56,-85),(-63,-93),(-70,-97),(-74,-85),(-72,-69)],
    [(-74,-66),(-71,-58),(-65,-33),(-56,-6),(-45,18),(-35,35),(-22,53),(-7,68),(7,77),(21,81),(35,78),(45,86),(56,94),(66,95),(71,85),(69,60),(62,30),(53,5),(44,-14),(29,-40),(15,-60),(0,-71),(-15,-79),(-29,-80),(-44,-75),(-53,-78),(-61,-87),(-68,-92),(-73,-82),(-74,-66)],
    [(-70,-70),(-68,-62),(-60,-40),(-50,-13),(-38,10),(-28,28),(-14,46),(1,62),(15,73),(29,80),(43,81),(52,91),(62,99),(70,97),(73,76),(69,47),(60,15),(50,-5),(41,-24),(26,-48),(12,-68),(-2,-77),(-17,-83),(-31,-85),(-45,-83),(-55,-87),(-62,-95),(-69,-99),(-73,-87),(-70,-70)],
    [(-72,-72),(-70,-63),(-62,-39),(-52,-11),(-40,13),(-31,31),(-17,49),(-2,65),(12,75),(26,81),(41,83),(50,93),(60,101),(69,99),(73,79),(70,52),(61,20),(51,0),(42,-19),(27,-44),(13,-63),(-1,-74),(-16,-80),(-30,-83),(-44,-82),(-54,-86),(-61,-94),(-68,-100),(-73,-88),(-72,-72)],
    [(-71,-68),(-69,-60),(-62,-36),(-52,-8),(-40,16),(-31,34),(-17,52),(-2,68),(12,77),(26,83),(41,83),(50,92),(60,98),(69,96),(74,77),(70,48),(61,16),(51,-4),(42,-23),(27,-47),(13,-66),(-1,-76),(-16,-82),(-30,-84),(-44,-82),(-54,-86),(-62,-94),(-69,-99),(-73,-86),(-71,-68)],
    [(-73,-68),(-71,-60),(-64,-36),(-54,-9),(-42,15),(-33,33),(-19,51),(-4,67),(10,77),(24,83),(38,84),(47,93),(58,101),(67,99),(71,80),(67,52),(58,20),(48,0),(39,-19),(24,-43),(10,-63),(-4,-74),(-19,-80),(-33,-82),(-47,-80),(-57,-84),(-64,-92),(-71,-96),(-75,-84),(-73,-68)],
    [(-72,-70),(-70,-62),(-63,-38),(-53,-11),(-41,13),(-32,31),(-18,49),(-3,65),(11,75),(25,81),(40,81),(49,91),(59,99),(68,101),(72,82),(70,54),(62,22),(52,2),(43,-17),(28,-42),(14,-62),(0,-73),(-15,-80),(-29,-82),(-43,-80),(-53,-84),(-61,-92),(-68,-98),(-72,-85),(-72,-70)],
    [(-73,-70),(-71,-61),(-64,-37),(-54,-10),(-42,14),(-33,32),(-19,50),(-4,66),(10,76),(24,82),(39,82),(48,92),(58,99),(67,96),(71,78),(67,49),(58,17),(48,-3),(39,-22),(24,-46),(10,-66),(-4,-76),(-19,-81),(-33,-83),(-47,-82),(-57,-86),(-64,-94),(-71,-97),(-75,-84),(-73,-70)],
    [(-70,-72),(-67,-64),(-59,-42),(-48,-16),(-36,8),(-26,26),(-12,43),(3,58),(17,69),(31,76),(44,78),(52,88),(61,96),(68,94),(71,75),(66,44),(56,12),(46,-8),(37,-27),(22,-50),(8,-69),(-6,-79),(-20,-84),(-34,-86),(-48,-84),(-57,-88),(-64,-96),(-70,-100),(-73,-86),(-70,-72)],
    [(-74,-64),(-72,-55),(-67,-30),(-58,-3),(-47,21),(-38,39),(-25,57),(-10,71),(4,80),(18,84),(33,85),(44,94),(55,102),(65,100),(72,88),(72,60),(65,28),(56,8),(47,-11),(32,-37),(18,-58),(3,-70),(-12,-77),(-26,-79),(-41,-77),(-51,-80),(-60,-88),(-67,-94),(-73,-80),(-74,-64)],
    [(-71,-71),(-69,-62),(-61,-38),(-51,-11),(-39,12),(-30,30),(-16,47),(-1,63),(13,73),(27,79),(42,80),(51,90),(61,98),(70,99),(73,81),(70,50),(61,18),(51,-2),(42,-21),(27,-45),(13,-65),(-1,-75),(-16,-81),(-30,-83),(-44,-81),(-54,-85),(-62,-93),(-69,-98),(-73,-86),(-71,-71)],
]
colors_120N = ['#8000ff', 'r', '#00c000', 'b', 'c', 'm', '#e0d000', 'k',
               '#000080', '#808080', '#808000']

loops_130N = [
    [(-70,-72),(-65,-49),(-60,-33),(-51,-6),(-44,6),(-34,21),(-20,39),(-6,56),(8,68),(26,77),(40,81),(50,87),(59,93),(66,91),(69,79),(68,60),(64,33),(54,6),(45,-18),(31,-41),(17,-56),(3,-66),(-11,-68),(-25,-76),(-39,-78),(-48,-84),(-55,-91),(-64,-88),(-69,-80),(-70,-72)],
    [(-71,-70),(-66,-46),(-61,-29),(-52,-2),(-45,10),(-35,25),(-21,43),(-7,60),(7,71),(24,79),(38,82),(48,88),(57,94),(65,93),(70,82),(70,62),(66,36),(57,9),(48,-15),(34,-38),(20,-53),(6,-63),(-8,-65),(-22,-73),(-36,-76),(-45,-82),(-53,-89),(-62,-87),(-68,-80),(-71,-70)],
    [(-69,-73),(-64,-51),(-58,-36),(-49,-9),(-42,3),(-32,17),(-18,35),(-4,52),(10,65),(28,75),(42,80),(52,86),(61,92),(68,90),(70,77),(68,57),(63,30),(52,3),(43,-21),(29,-44),(15,-59),(1,-69),(-13,-71),(-27,-79),(-41,-81),(-50,-87),(-57,-93),(-65,-90),(-70,-82),(-69,-73)],
    [(-70,-74),(-65,-50),(-59,-34),(-50,-7),(-43,5),(-33,20),(-19,38),(-5,55),(9,67),(27,76),(41,80),(51,86),(60,92),(67,90),(70,78),(69,58),(65,31),(55,4),(46,-20),(32,-43),(18,-58),(4,-68),(-10,-70),(-24,-78),(-38,-80),(-47,-86),(-54,-93),(-63,-90),(-69,-82),(-70,-74)],
    [(-71,-73),(-66,-48),(-61,-31),(-52,-4),(-45,8),(-35,23),(-21,41),(-7,58),(7,70),(25,78),(39,82),(49,89),(58,95),(66,93),(70,80),(69,61),(64,34),(54,7),(45,-17),(31,-40),(17,-55),(3,-65),(-11,-67),(-25,-75),(-39,-77),(-48,-83),(-55,-90),(-64,-93),(-70,-84),(-71,-73)],
    [(-70,-71),(-65,-47),(-60,-31),(-51,-4),(-44,8),(-34,23),(-20,41),(-6,58),(8,70),(26,78),(40,82),(50,88),(59,94),(66,92),(70,80),(70,60),(65,32),(55,5),(46,-19),(32,-42),(18,-57),(4,-67),(-10,-69),(-24,-77),(-38,-79),(-47,-85),(-54,-92),(-63,-89),(-69,-81),(-70,-71)],
    [(-69,-70),(-64,-47),(-59,-31),(-50,-5),(-43,7),(-33,22),(-19,40),(-5,57),(9,69),(27,77),(41,81),(51,87),(60,93),(67,91),(70,79),(70,60),(66,34),(56,7),(47,-17),(33,-40),(19,-55),(5,-65),(-9,-67),(-23,-75),(-37,-77),(-46,-83),(-53,-90),(-62,-88),(-68,-80),(-69,-70)],
    [(-70,-72),(-66,-49),(-61,-33),(-52,-6),(-45,6),(-35,21),(-21,39),(-7,56),(7,68),(25,76),(39,80),(49,86),(58,92),(65,90),(69,78),(68,58),(63,31),(53,4),(44,-20),(30,-43),(16,-58),(2,-68),(-12,-70),(-26,-78),(-40,-80),(-49,-86),(-56,-93),(-65,-90),(-70,-82),(-70,-72)],
    [(-69,-75),(-63,-53),(-57,-38),(-47,-12),(-40,0),(-30,14),(-16,32),(-2,49),(12,62),(30,72),(44,77),(54,83),(62,90),(68,88),(69,75),(66,54),(61,27),(50,0),(41,-24),(27,-47),(13,-62),(-1,-71),(-15,-73),(-29,-80),(-43,-82),(-52,-88),(-58,-94),(-66,-91),(-70,-84),(-69,-75)],
    [(-71,-68),(-67,-44),(-62,-27),(-54,0),(-47,12),(-37,27),(-23,45),(-9,62),(5,74),(22,81),(36,84),(46,90),(55,96),(64,95),(70,84),(71,64),(68,38),(59,11),(50,-13),(36,-36),(22,-51),(8,-61),(-6,-63),(-20,-71),(-34,-74),(-43,-80),(-51,-87),(-60,-85),(-68,-78),(-71,-68)],
    [(-70,-73),(-65,-48),(-60,-32),(-51,-5),(-44,7),(-34,22),(-20,40),(-6,57),(8,69),(26,77),(40,81),(50,87),(59,93),(66,91),(70,79),(69,59),(65,33),(55,6),(46,-18),(32,-41),(18,-56),(4,-66),(-10,-68),(-24,-76),(-38,-78),(-47,-84),(-54,-91),(-63,-88),(-69,-80),(-70,-73)],
]
colors_130N = ['#00c000', 'r', '#e0d000', 'b', 'c', 'm', '#ff8000', 'k',
               '#000080', '#808080', '#ff80c0']

all_loops = [loops_50N, loops_60N, loops_70N, loops_80N, loops_90N,
             loops_100N, loops_110N, loops_120N, loops_130N]
all_colors = [colors_50N, colors_60N, colors_70N, colors_80N, colors_90N,
              colors_100N, colors_110N, colors_120N, colors_130N]

# ---- layout (pixel boxes: left, top, right, bottom) ----
panels = [
    dict(box=(67, 33, 308, 238), xlim=(-110, 110), ylim=(-70, 70), xt=(20, 10), yt=(20, 10), xfs=7.5, yfs=10.5,
         title=(189, 19, 11), tag=(82, 53), xl=(188, 271), yl=(16, 133), lfs=11),
    dict(box=(488, 32, 722, 230), xlim=(-100, 100), ylim=(-80, 80), xt=(20, 10), yt=(20, 10), xfs=8.2, yfs=10.5,
         title=(605, 15, 10.7), tag=(505, 54), xl=(606, 265), yl=(443, 130), lfs=11),
    dict(box=(859, 32, 1102, 238), xlim=(-100, 100), ylim=(-80, 80), xt=(20, 10), yt=(20, 10), xfs=8.2, yfs=10.5,
         title=(987, 17, 10.9), tag=(879, 52), xl=(985, 273), yl=(818, 133), lfs=11),
    dict(box=(67, 312, 308, 515), xlim=(-100, 100), ylim=(-80, 80), xt=(20, 10), yt=(20, 10), xfs=8.3, yfs=10.5,
         title=(191, 296, 11), tag=(82, 333), xl=(189, 547), yl=(21, 412), lfs=11),
    dict(box=(479, 320, 722, 524), xlim=(-100, 100), ylim=(-100, 100), xt=(20, 10), yt=(20, 10), xfs=8.0, yfs=10.5,
         title=(605, 304, 11), tag=(495, 342), xl=(602, 558), yl=(432, 422), lfs=11),
    dict(box=(871, 321, 1108, 520), xlim=(-92, 92), ylim=(-100, 100), xt=(20, 10), yt=(20, 10), xfs=10.5, yfs=10.5,
         title=(994, 306, 10.6), tag=(889, 342), xl=(985, 555), yl=(825, 417), lfs=11),
    dict(box=(69, 602, 325, 817), xlim=(-90, 90), ylim=(-110, 110), xt=(20, 10), yt=(20, 10), xfs=11, yfs=11,
         title=(193, 587, 12), tag=(93, 632), xl=(198, 857), yl=(21, 708), lfs=11.5),
    dict(box=(471, 607, 721, 817), xlim=(-91, 88), ylim=(-125, 125), xt=(20, 10), yt=(50, 25), xfs=11.5, yfs=11.5,
         title=(598, 591, 11.3), tag=(486, 632), xl=(595, 847), yl=(424, 712), lfs=11.5),
    dict(box=(848, 601, 1103, 817), xlim=(-89, 89), ylim=(-125, 125), xt=(20, 10), yt=(50, 25), xfs=11, yfs=11.5,
         title=(968, 587, 11.9), tag=(860, 622), xl=(976, 856), yl=(798, 705), lfs=11.5),
]

fig = plt.figure(figsize=(W / 100, H / 100), dpi=100)


def fx(px):
    return px / W


def fy(py):
    return 1 - py / H


for i, p in enumerate(panels):
    l, t, r, b = p['box']
    ax = fig.add_axes([fx(l), fy(b), (r - l) / W, (b - t) / H])
    for cyc, col in zip(all_loops[i], all_colors[i]):
        arr = np.array(cyc, dtype=float)
        ax.plot(arr[:, 0], arr[:, 1], color=col, lw=0.95)
    ax.set_xlim(*p['xlim'])
    ax.set_ylim(*p['ylim'])
    ax.xaxis.set_major_locator(MultipleLocator(p['xt'][0]))
    ax.xaxis.set_minor_locator(MultipleLocator(p['xt'][1]))
    ax.yaxis.set_major_locator(MultipleLocator(p['yt'][0]))
    ax.yaxis.set_minor_locator(MultipleLocator(p['yt'][1]))
    for s in ['top', 'right']:
        ax.spines[s].set_visible(False)
    for s in ['left', 'bottom']:
        ax.spines[s].set_color('#505050')
        ax.spines[s].set_linewidth(0.9)
    ax.tick_params(which='major', direction='out', length=4, width=0.8, color='#505050', pad=1.5)
    ax.tick_params(which='minor', direction='out', length=2, width=0.7, color='#505050')
    ax.tick_params(axis='x', labelsize=p['xfs'], labelcolor='#111111')
    ax.tick_params(axis='y', labelsize=p['yfs'], labelcolor='#111111')

    tx, ty, tfs = p['title']
    fig.text(fx(tx), fy(ty), 'Ti64 on Ti64 at 450°C, 30Hz, ' + loads[i] + ', and 200μm',
             ha='center', va='center', fontsize=tfs, fontweight='bold')
    fig.text(fx(p['tag'][0]), fy(p['tag'][1]), loads[i], ha='left', va='center',
             fontsize=19, fontweight='bold')
    fig.text(fx(p['xl'][0]), fy(p['xl'][1]), xlabels[i], ha='center', va='center',
             fontsize=p['lfs'], color='#222222')
    fig.text(fx(p['yl'][0]), fy(p['yl'][1]), 'Friction in N', ha='center', va='center',
             rotation=90, fontsize=p['lfs'], color='#222222')

# grey dotted ring drawn around the 80N panel
ring = Ellipse((fx(185), fy(414)), width=364 / W, height=328 / H, transform=fig.transFigure,
               fill=False, edgecolor='#c6c6c6', linewidth=4.4, linestyle=(0, (0.001, 2.35)),
               capstyle='round', zorder=10)
fig.add_artist(ring)

fig.savefig('out.png', dpi=100)
